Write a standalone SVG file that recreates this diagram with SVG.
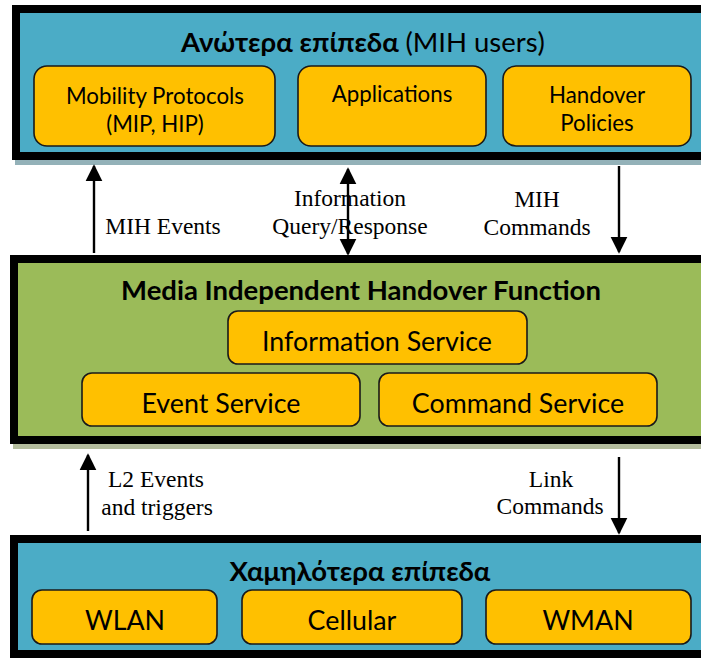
<svg xmlns="http://www.w3.org/2000/svg" width="701" height="658" viewBox="0 0 701 658">
  <style>
    .layer { stroke: #000; stroke-width: 8; }
    .teal { fill: #4bacc6; }
    .green { fill: #9bbb59; }
    .box { fill: #ffc000; stroke: #1a1a1a; stroke-width: 1.6; }
    .sans { font-family: Lato, "Noto Sans", "DejaVu Sans", sans-serif; fill: #000; text-anchor: middle; }
    .title { font-size: 27.5px; font-weight: bold; }
    .t19 { font-size: 22.3px; }
    .t23 { font-size: 26.8px; }
    .serif { font-family: "Liberation Serif", "Times New Roman", serif; font-size: 23.5px; fill: #000; text-anchor: middle; }
    .conn { stroke: #000; stroke-width: 2.4; fill: none; }
  </style>
  <defs>
    <marker id="head" viewBox="0 0 10 10" refX="9" refY="5" markerWidth="7" markerHeight="7.5" orient="auto-start-reverse" markerUnits="strokeWidth">
      <path d="M0,0 L10,5 L0,10 z" fill="#000"/>
    </marker>
  </defs>

  <rect width="701" height="658" fill="#fff"/>

  <!-- upper layer -->
  <g id="upper-layer">
    <rect x="15" y="160" width="700" height="5" fill="#93b1b8"/>
    <rect class="layer teal" x="16" y="9" width="700" height="147"/>
    <text class="sans title" x="363" y="52">Ανώτερα επίπεδα <tspan font-weight="normal">(MIH users)</tspan></text>
  </g>
  <g id="mobility-protocols">
    <rect class="box" x="34" y="66" width="241" height="80" rx="13"/>
    <text class="sans t19" x="155" y="104">Mobility Protocols</text>
    <text class="sans t19" x="155" y="132">(MIP, HIP)</text>
  </g>
  <g id="applications">
    <rect class="box" x="298" y="66" width="188" height="80" rx="13"/>
    <text class="sans t19" x="392" y="102">Applications</text>
  </g>
  <g id="handover-policies">
    <rect class="box" x="503" y="66" width="188" height="80" rx="13"/>
    <text class="sans t19" x="597" y="103">Handover</text>
    <text class="sans t19" x="597" y="131">Policies</text>
  </g>

  <!-- MIH function layer -->
  <g id="mih-function">
    <rect x="13" y="444" width="700" height="5" fill="#b4bd9e"/>
    <rect class="layer green" x="14" y="259" width="700" height="181"/>
    <text class="sans title" x="361" y="300">Media Independent Handover Function</text>
  </g>
  <g id="information-service">
    <rect class="box" x="228" y="311" width="299" height="53" rx="10"/>
    <text class="sans t23" x="377" y="351">Information Service</text>
  </g>
  <g id="event-service">
    <rect class="box" x="82" y="373" width="278" height="53" rx="10"/>
    <text class="sans t23" x="221" y="413">Event Service</text>
  </g>
  <g id="command-service">
    <rect class="box" x="379" y="373" width="278" height="53" rx="10"/>
    <text class="sans t23" x="518" y="413">Command Service</text>
  </g>

  <!-- lower layer -->
  <g id="lower-layer">
    <rect class="layer teal" x="14" y="539" width="700" height="115"/>
    <text class="sans title" x="360" y="581">Χαμηλότερα επίπεδα</text>
  </g>
  <g id="wlan">
    <rect class="box" x="32" y="590" width="185" height="54" rx="10"/>
    <text class="sans t23" x="125" y="630">WLAN</text>
  </g>
  <g id="cellular">
    <rect class="box" x="242" y="590" width="220" height="54" rx="10"/>
    <text class="sans t23" x="352" y="630">Cellular</text>
  </g>
  <g id="wman">
    <rect class="box" x="486" y="590" width="205" height="54" rx="10"/>
    <text class="sans t23" x="588" y="630">WMAN</text>
  </g>

  <!-- connectors -->
  <g id="connectors">
    <line class="conn" x1="94" y1="253" x2="94" y2="166" marker-end="url(#head)"/>
    <line class="conn" x1="348" y1="169" x2="348" y2="254" marker-start="url(#head)" marker-end="url(#head)"/>
    <line class="conn" x1="619" y1="166" x2="619" y2="252" marker-end="url(#head)"/>
    <line class="conn" x1="88" y1="531" x2="88" y2="455" marker-end="url(#head)"/>
    <line class="conn" x1="619" y1="457" x2="619" y2="533" marker-end="url(#head)"/>
  </g>

  <g id="connector-labels">
    <text class="serif" x="163" y="234">MIH Events</text>
    <text class="serif" x="350" y="206">Information</text>
    <text class="serif" x="350" y="234">Query/Response</text>
    <text class="serif" x="537" y="207">MIH</text>
    <text class="serif" x="537" y="235">Commands</text>
    <text class="serif" x="156" y="487">L2 Events</text>
    <text class="serif" x="157" y="515">and triggers</text>
    <text class="serif" x="551" y="487">Link</text>
    <text class="serif" x="550" y="514">Commands</text>
  </g>
</svg>
